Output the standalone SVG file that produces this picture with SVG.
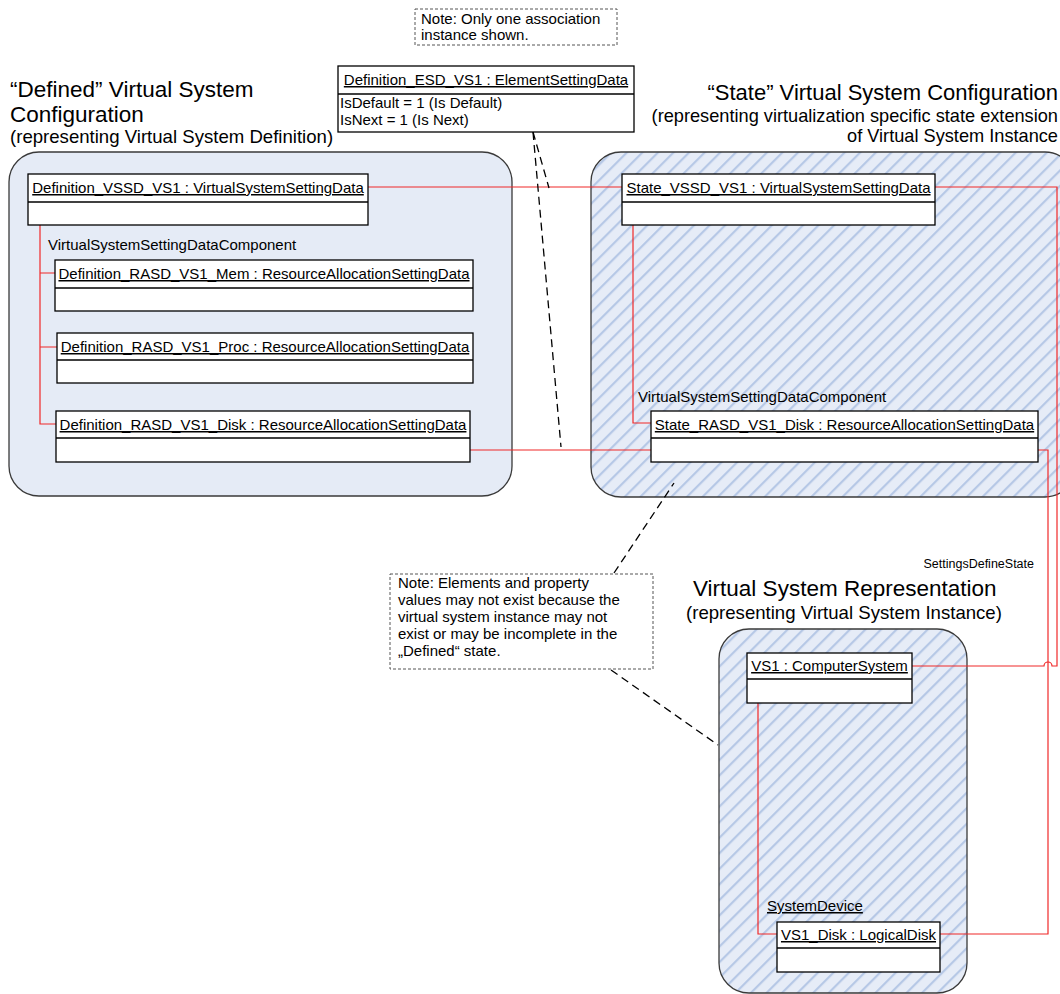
<svg xmlns="http://www.w3.org/2000/svg" width="1060" height="994" viewBox="0 0 1060 994">
  <style>
    text { font-family: "Liberation Sans", Arial, sans-serif; fill: #000; }
    .title { font-size: 22.5px; }
    .sub { font-size: 18.6px; }
    .rtitle { font-size: 22px; text-anchor: end; }
    .rsub { font-size: 18.2px; text-anchor: end; }
    .lbl { font-size: 15px; }
    .hdr { font-size: 15px; text-anchor: middle; text-decoration: underline; }
    .box { fill: #fff; stroke: #000; stroke-width: 1.3; }
    .div { stroke: #000; stroke-width: 1.3; }
    .cont { stroke: #3a3a3a; stroke-width: 1.3; }
    .plain { fill: #e5ebf6; }
    .hatch { fill: url(#hatch); }
    .assoc { fill: none; stroke: #f02828; stroke-width: 1.2; }
    .link { fill: none; stroke: #000; stroke-width: 1.3; stroke-dasharray: 8 5; }
    .note { fill: #fff; stroke: #555; stroke-width: 1; stroke-dasharray: 3 2; }
  </style>
  <defs>
    <pattern id="hatch" patternUnits="userSpaceOnUse" width="11" height="11" patternTransform="rotate(45)">
      <rect width="11" height="11" fill="#e6ecf7"/>
      <rect x="0" y="0" width="2.2" height="11" fill="#b6c8e6"/>
    </pattern>
  </defs>

  <!-- containers -->
  <g id="defined-config">
    <rect class="cont plain" x="9" y="152" width="503" height="344" rx="30"/>
    <text class="title" x="10" y="97">“Defined” Virtual System</text>
    <text class="title" x="10" y="122">Configuration</text>
    <text class="sub" x="10" y="143">(representing Virtual System Definition)</text>
  </g>
  <g id="state-config">
    <rect class="cont hatch" x="591" y="152" width="484" height="345" rx="30"/>
    <text class="rtitle" x="1058" y="100">“State” Virtual System Configuration</text>
    <text class="rsub" x="1058" y="122">(representing virtualization specific state extension</text>
    <text class="rsub" x="1058" y="142">of Virtual System Instance</text>
  </g>
  <g id="vs-representation">
    <rect class="cont hatch" x="719" y="629" width="248" height="364" rx="30"/>
    <text class="title" x="693" y="596">Virtual System Representation</text>
    <text class="sub" x="686" y="619">(representing Virtual System Instance)</text>
  </g>

  <!-- connectors -->
  <g id="connectors">
    <!-- Definition VSSD to State VSSD -->
    <path class="assoc" d="M368,187 H622"/>
    <!-- Definition VSSD component tree -->
    <path class="assoc" d="M40,225 V424 H56 M40,273 H55 M40,347 H57"/>
    <!-- Definition disk to State disk -->
    <path class="assoc" d="M470,450 H651"/>
    <!-- State VSSD component -->
    <path class="assoc" d="M633,225 V423 H651"/>
    <!-- SettingsDefineState: State disk to VS1_Disk -->
    <path class="assoc" d="M1038,450 H1048 V934 H940"/>
    <!-- SettingsDefineState: State VSSD to VS1 (hops over the disk link) -->
    <path class="assoc" d="M935,187 H1057 V666 H1052 A4,4 0 0 0 1044,666 H912"/>
    <!-- SystemDevice -->
    <path class="assoc" d="M758,703 V934 H777"/>
    <!-- note anchors -->
    <path class="link" d="M533,132 L549,188"/>
    <path class="link" d="M533,132 L561,447"/>
    <path class="link" d="M614,573 L674,483"/>
    <path class="link" d="M611,670 L718,745"/>
  </g>

  <text class="lbl" x="48" y="250">VirtualSystemSettingDataComponent</text>
  <text class="lbl" x="638" y="402">VirtualSystemSettingDataComponent</text>
  <text class="lbl" x="1034" y="568" text-anchor="end" style="font-size:12.5px">SettingsDefineState</text>
  <text class="lbl" x="767" y="911" text-decoration="underline">SystemDevice</text>

  <!-- notes -->
  <g id="note-association">
    <rect class="note" x="415" y="9" width="202" height="36"/>
    <text class="lbl" x="421" y="24">Note: Only one association</text>
    <text class="lbl" x="421" y="40">instance shown.</text>
  </g>
  <g id="note-elements">
    <rect class="note" x="390" y="574" width="263" height="95"/>
    <text class="lbl" x="398" y="588">Note: Elements and property</text>
    <text class="lbl" x="398" y="605">values may not exist because the</text>
    <text class="lbl" x="398" y="622">virtual system instance may not</text>
    <text class="lbl" x="398" y="639">exist or may be incomplete in the</text>
    <text class="lbl" x="398" y="656">„Defined“ state.</text>
  </g>

  <!-- instances -->
  <g id="def-esd">
    <rect class="box" x="338" y="66" width="296" height="66"/>
    <line class="div" x1="338" y1="94" x2="634" y2="94"/>
    <text class="hdr" x="486" y="85">Definition_ESD_VS1 : ElementSettingData</text>
    <text class="lbl" x="340" y="108">IsDefault = 1 (Is Default)</text>
    <text class="lbl" x="340" y="125">IsNext = 1 (Is Next)</text>
  </g>
  <g id="def-vssd">
    <rect class="box" x="28" y="174" width="340" height="51"/>
    <line class="div" x1="28" y1="202" x2="368" y2="202"/>
    <text class="hdr" x="198" y="193">Definition_VSSD_VS1 : VirtualSystemSettingData</text>
  </g>
  <g id="def-rasd-mem">
    <rect class="box" x="55" y="260" width="418" height="51"/>
    <line class="div" x1="55" y1="288" x2="473" y2="288"/>
    <text class="hdr" x="264" y="279">Definition_RASD_VS1_Mem : ResourceAllocationSettingData</text>
  </g>
  <g id="def-rasd-proc">
    <rect class="box" x="57" y="333" width="416" height="50"/>
    <line class="div" x1="57" y1="360" x2="473" y2="360"/>
    <text class="hdr" x="265" y="352">Definition_RASD_VS1_Proc : ResourceAllocationSettingData</text>
  </g>
  <g id="def-rasd-disk">
    <rect class="box" x="56" y="411" width="414" height="51"/>
    <line class="div" x1="56" y1="438" x2="470" y2="438"/>
    <text class="hdr" x="263" y="430">Definition_RASD_VS1_Disk : ResourceAllocationSettingData</text>
  </g>
  <g id="state-vssd">
    <rect class="box" x="622" y="174" width="313" height="51"/>
    <line class="div" x1="622" y1="202" x2="935" y2="202"/>
    <text class="hdr" x="778.5" y="193">State_VSSD_VS1 : VirtualSystemSettingData</text>
  </g>
  <g id="state-rasd-disk">
    <rect class="box" x="651" y="411" width="387" height="51"/>
    <line class="div" x1="651" y1="438" x2="1038" y2="438"/>
    <text class="hdr" x="844.5" y="430">State_RASD_VS1_Disk : ResourceAllocationSettingData</text>
  </g>
  <g id="vs1-system">
    <rect class="box" x="747" y="653" width="165" height="50"/>
    <line class="div" x1="747" y1="679" x2="912" y2="679"/>
    <text class="hdr" x="829.5" y="671">VS1 : ComputerSystem</text>
  </g>
  <g id="vs1-disk">
    <rect class="box" x="777" y="922" width="163" height="50"/>
    <line class="div" x1="777" y1="948" x2="940" y2="948"/>
    <text class="hdr" x="858.5" y="940">VS1_Disk : LogicalDisk</text>
  </g>
</svg>
